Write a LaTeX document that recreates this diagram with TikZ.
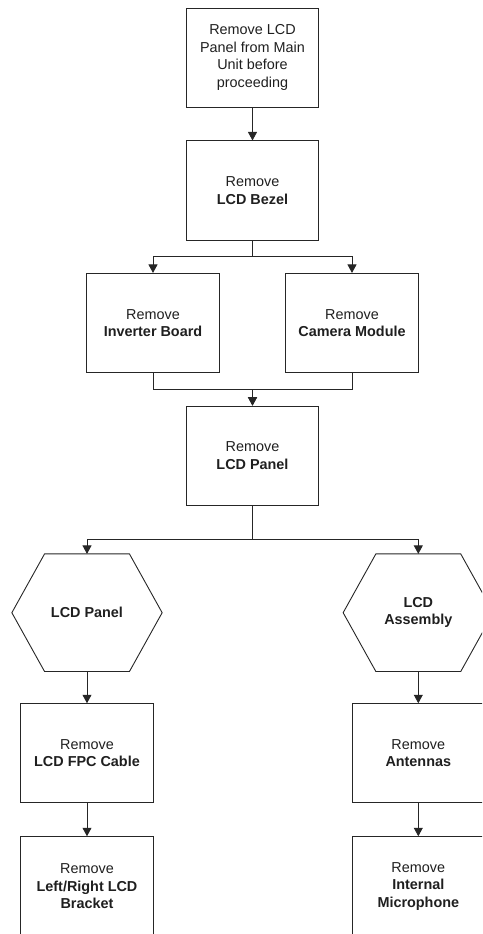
\documentclass[tikz,border=0pt]{standalone}
\usepackage{fontspec}
\setmainfont{Liberation Sans}
\usetikzlibrary{arrows.meta}
\begin{document}
\begin{tikzpicture}[x=1pt,y=-1pt,
  line width=0.9pt,
  every node/.style={font=\fontsize{14.4}{17.5}\selectfont, text=black!88, align=center, inner sep=0pt},
  stepbox/.style={draw=black!85, minimum width=132.6pt, minimum height=99.2pt},
  hexnode/.style={minimum width=149.4pt, minimum height=116.7pt},
  hexline/.style={draw=black!85},
  conn/.style={draw=black!85},
  arr/.style={conn, -{Triangle[length=8.5pt,width=9pt]}}]
\useasboundingbox (0,0) rectangle (482,934);
\clip (0,0) rectangle (482,934);

\node[stepbox] (top) at (252.5,57.7) {Remove LCD\\Panel from Main\\Unit before\\proceeding};
\node[stepbox] (bezel) at (252.5,190.5) {Remove\\\textbf{LCD Bezel}};
\node[stepbox] (inverter) at (153,323) {Remove\\\textbf{Inverter Board}};
\node[stepbox] (camera) at (352,323) {Remove\\\textbf{Camera Module}};
\node[stepbox] (panel) at (252.5,455.7) {Remove\\\textbf{LCD Panel}};

\node[hexnode] (hexL) at (87,612.7) {\textbf{LCD Panel}};
\node[hexnode] (hexR) at (418.3,612.7) {\textbf{LCD}\\\textbf{Assembly}};
\foreach \h in {hexL,hexR}{
  \draw[hexline] (\h.west) -- ([xshift=32.7pt]\h.north west) -- ([xshift=-32.7pt]\h.north east)
    -- (\h.east) -- ([xshift=-32.7pt]\h.south east) -- ([xshift=32.7pt]\h.south west) -- cycle;
}

\node[stepbox] (fpc) at (87,753.3) {Remove\\\textbf{LCD FPC Cable}};
\node[stepbox] (bracket) at (87,886.3) {Remove\\\textbf{Left/Right LCD}\\\textbf{Bracket}};
\node[stepbox] (antennas) at (418.3,753.3) {Remove\\\textbf{Antennas}};
\node[stepbox] (mic) at (418.3,886.3) {Remove\\\textbf{Internal}\\\textbf{Microphone}};

\draw[arr] (top.south) -- (bezel.north);
\draw[arr] (bezel.south) -- ++(0,16) -| (inverter.north);
\draw[arr] (bezel.south) -- ++(0,16) -| (camera.north);
\draw[arr] (inverter.south) -- ++(0,16.3) -| (panel.north);
\draw[arr] (camera.south) -- ++(0,16.3) -| (panel.north);
\draw[arr] (panel.south) -- ++(0,33.4) -| (hexL.north);
\draw[arr] (panel.south) -- ++(0,33.4) -| (hexR.north);
\draw[arr] (hexL.south) -- (fpc.north);
\draw[arr] (fpc.south) -- (bracket.north);
\draw[arr] (hexR.south) -- (antennas.north);
\draw[arr] (antennas.south) -- (mic.north);
\end{tikzpicture}
\end{document}
